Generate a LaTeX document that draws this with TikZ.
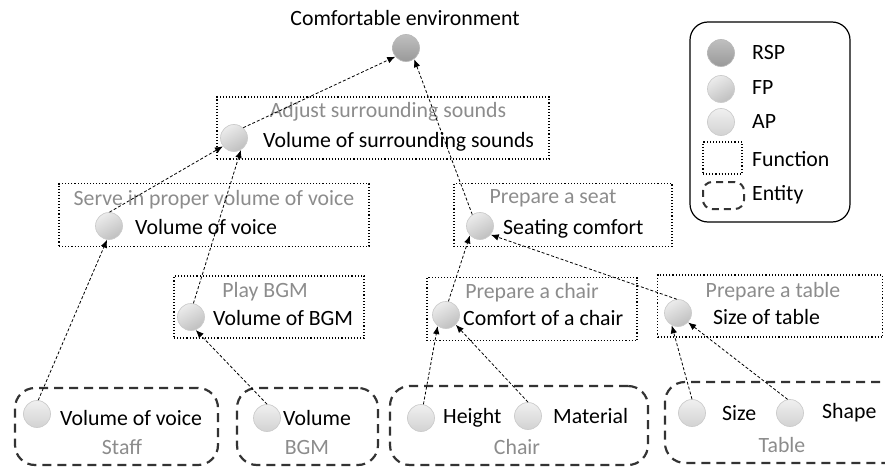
\documentclass[tikz,border=0pt]{standalone}
\usepackage{fontspec}
\setmainfont{Carlito}
\usetikzlibrary{arrows.meta}
\begin{document}
\begin{tikzpicture}[x=1pt,y=-1pt,
  pt/.style={circle, minimum size=27pt, inner sep=0pt, draw=gray!40, line width=0.7pt,
    top color=gray!15, bottom color=gray!50, shading angle=30},
  ap/.style={pt, top color=gray!12, bottom color=gray!35},
  rsp/.style={pt, top color=gray!50, bottom color=gray!80, draw=gray!55},
  func/.style={draw, dotted, line width=1.1pt, inner sep=0pt},
  ent/.style={draw=black!80, dash pattern=on 9pt off 6pt, line width=2.2pt, rounded corners=20pt, inner sep=0pt},
  lbl/.style={anchor=west, inner sep=0pt, font=\fontsize{21.8}{24}\selectfont},
  glbl/.style={inner sep=0pt, text=black!45, font=\fontsize{21.8}{24}\selectfont},
  arr/.style={-{Latex[length=8pt,width=6.5pt]}, dash pattern=on 3pt off 2pt, line width=0.8pt}]
\useasboundingbox (0,0) rectangle (885,468);
\clip (0,0) rectangle (885,468);

% title
\node[inner sep=0pt, font=\fontsize{21.8}{24}\selectfont] (title) at (405,18) {Comfortable environment};
\node[rsp] (rsp) at (406,48) {};

% function boxes
\node[func, minimum width=332pt, minimum height=62pt] (fA) at (383,128) {};
\node[glbl] (tA) at (388,112) {Adjust surrounding sounds};
\node[pt] (surF) at (234,138) {};
\node[lbl] (lA) at (263,142) {Volume of surrounding sounds};

\node[func, minimum width=310pt, minimum height=63pt] (fB) at (214,215) {};
\node[glbl] (tB) at (214,200) {Serve in proper volume of voice};
\node[pt] (vvF) at (109,226) {};
\node[lbl] (lB) at (135,227) {Volume of voice};

\node[func, minimum width=190pt, minimum height=62pt] (fC) at (269,307) {};
\node[glbl] (tC) at (265,292) {Play BGM};
\node[pt] (bgmF) at (191,317) {};
\node[lbl] (lC) at (213,318) {Volume of BGM};

\node[func, minimum width=218pt, minimum height=63pt] (fD) at (563,215) {};
\node[glbl] (tD) at (553,198) {Prepare a seat};
\node[pt] (seatF) at (480,226) {};
\node[lbl] (lD) at (503,229) {Seating comfort};

\node[func, minimum width=210pt, minimum height=63pt] (fE) at (532,309) {};
\node[glbl] (tE) at (532,293) {Prepare a chair};
\node[pt] (chairF) at (446,315) {};
\node[lbl] (lE) at (463,318) {Comfort of a chair};

\node[func, minimum width=225pt, minimum height=62pt] (fF) at (770,306) {};
\node[glbl] (tF) at (773,292) {Prepare a table};
\node[pt] (tableF) at (678,313) {};
\node[lbl] (lF) at (713,317) {Size of table};

% entity boxes
\node[ent, minimum width=203pt, minimum height=77pt] (eS) at (116.5,426.5) {};
\node[ap] (staffA) at (37,414) {};
\node[lbl] (lS) at (60,418) {Volume of voice};
\node[glbl] (tS) at (122,447) {Staff};

\node[ent, minimum width=141pt, minimum height=77pt] (eB) at (307.5,426.5) {};
\node[ap] (bgmA) at (267,418) {};
\node[lbl] (lBg) at (283,418) {Volume};
\node[glbl] (tBg) at (307,447) {BGM};

\node[ent, minimum width=258pt, minimum height=79pt] (eC) at (519,425.5) {};
\node[ap] (heightA) at (421,418) {};
\node[lbl] (lH) at (443,418) {Height};
\node[ap] (matA) at (528,416) {};
\node[lbl] (lM) at (553,416) {Material};
\node[glbl] (tCh) at (517,447) {Chair};

\node[ent, minimum width=250pt, minimum height=81pt] (eT) at (790,422.5) {};
\node[ap] (sizeA) at (692,413) {};
\node[lbl] (lSz) at (722,413) {Size};
\node[ap] (shapeA) at (790,413) {};
\node[lbl] (lSh) at (822,413) {Shape};
\node[glbl] (tT) at (782,445) {Table};

% connectors
\draw[arr] (vvF.88) -- (surF.217);
\draw[arr] (bgmF.80) -- (surF.300);
\draw[arr] (surF.48) -- (rsp.219);
\draw[arr] (seatF.124) -- (rsp.306);
\draw[arr] (staffA.85) -- (vvF.262);
\draw[arr] (bgmA.90) -- (bgmF.290);
\draw[arr] (heightA.80) -- (chairF.233);
\draw[arr] (matA.90) -- (chairF.315);
\draw[arr] (chairF.80) -- (seatF.223);
\draw[arr] (tableF.95) -- (seatF.321);
\draw[arr] (sizeA.90) -- (tableF.243);
\draw[arr] (shapeA.100) -- (tableF.317);

% legend
\node[draw, line width=1.2pt, rounded corners=18pt, minimum width=160pt, minimum height=200pt, inner sep=0pt] (leg) at (770,122) {};
\node[rsp] (lgR) at (721,53) {};
\node[lbl] (lgRt) at (752,53) {RSP};
\node[pt] (lgF) at (721,89) {};
\node[lbl] (lgFt) at (752,88) {FP};
\node[ap] (lgA) at (721,122) {};
\node[lbl] (lgAt) at (752,122) {AP};
\node[func, minimum width=39pt, minimum height=32pt] (lgFn) at (722.5,158) {};
\node[lbl] (lgFnt) at (752,159) {Function};
\node[draw=black!80, dash pattern=on 7pt off 5pt, line width=2pt, rounded corners=9pt, minimum width=41pt, minimum height=27pt, inner sep=0pt] (lgE) at (723.5,195.5) {};
\node[lbl] (lgEt) at (752,195) {Entity};
\end{tikzpicture}
\end{document}
